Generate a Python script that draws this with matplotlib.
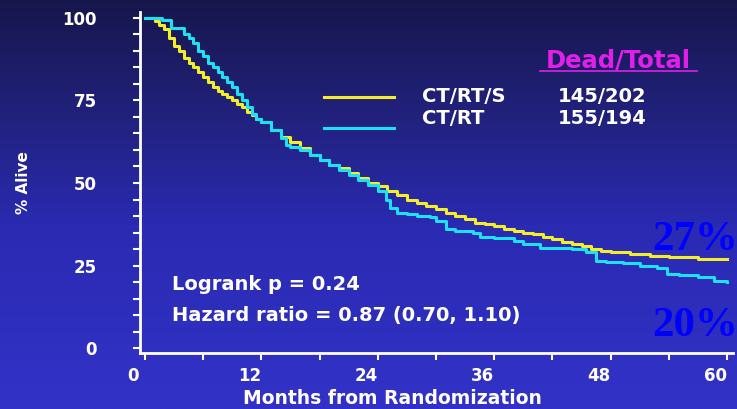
import matplotlib
matplotlib.use('Agg')
import matplotlib.pyplot as plt
import matplotlib.transforms as mtransforms
import numpy as np
from matplotlib.colors import LinearSegmentedColormap
from matplotlib.ticker import MultipleLocator

# Kaplan-Meier curves (months, % alive)
months_s = [0, 1.0, 1.5, 2.0, 2.5, 3.0, 3.5, 4.0, 4.5, 5.0, 5.5, 6.0, 6.5, 7.0,
            7.5, 8.0, 8.5, 9.0, 9.5, 10, 10.5, 11, 11.5, 12, 13, 14, 15, 16,
            17, 18, 19, 20, 21, 22, 23, 24, 25, 26, 27, 28, 29, 30, 31, 32,
            33, 34, 35, 36, 37, 38, 39, 40, 41, 42, 43, 44, 45, 46, 47, 48,
            50, 52, 54, 57, 60]
alive_s = [100, 99, 98, 96.5, 94, 91.5, 90, 88, 86.5, 85, 83.5, 82, 80.5, 79,
           78, 77, 76, 75, 74, 73, 71.5, 70.5, 69.5, 68.5, 66, 64, 62.5, 60.5,
           58.5, 57, 55.5, 54.5, 53, 51.5, 50, 49, 47.5, 46.5, 45, 44, 43, 42,
           41, 40, 39, 38, 37.5, 37, 36, 35.5, 35, 34.5, 33.5, 33, 32, 31.5,
           31, 30, 29.5, 29, 28.5, 28, 27.5, 27, 27]

months_rt = [0, 1.8, 2.7, 4.0, 4.5, 5.0, 5.5, 6.0, 6.5, 7.0, 7.5, 8.0, 8.5,
             9.0, 9.5, 10, 10.5, 11, 11.5, 12, 13, 14, 14.5, 15, 16, 17, 18,
             19, 20, 21, 22, 23, 24, 24.8, 25.3, 26, 27, 28, 29.4, 30, 31, 32,
             33.8, 34.5, 36, 38, 39, 40.7, 42, 44, 45.5, 46.5, 47.5, 49.3, 51,
             52.8, 53.8, 55, 57, 58.6, 60]
alive_rt = [100, 99.3, 97, 95, 94, 92.5, 90, 88.5, 86.5, 85, 83.5, 82, 80.5,
            79, 77, 75, 73, 71, 69.5, 68.5, 66, 63.5, 61.5, 61, 60, 58.5, 57,
            55.5, 54, 52.5, 51, 49.5, 47.5, 45, 42.5, 41, 40.5, 40, 39.7,
            38.5, 36, 35.5, 35, 33.5, 33.3, 32.5, 31.5, 30.3, 30.3, 30, 29,
            26.5, 26, 25.7, 25, 24.2, 22.5, 22, 21.5, 20.2, 20]

labels = ['CT/RT/S', 'CT/RT']
dead_total = ['145/202', '155/194']
colors = ['#f2ee2a', '#1ee0f0']

plt.rcParams['font.family'] = ['DejaVu Sans']
plt.rcParams['font.weight'] = 'bold'

fig = plt.figure(figsize=(7.37, 4.09), dpi=100)

# background gradient
bg = fig.add_axes([0, 0, 1, 1], zorder=-1)
grad = np.linspace(0, 1, 256).reshape(-1, 1)
cmap = LinearSegmentedColormap.from_list(
    'bg', [(0, '#17164c'), (0.3, '#222280'), (0.55, '#2a2ab2'), (1, '#3232c8')])
bg.imshow(grad, aspect='auto', cmap=cmap, extent=[0, 1, 0, 1], origin='upper')
bg.axis('off')

ax = fig.add_axes([140 / 737, (409 - 353) / 409, (733 - 140) / 737, (353 - 12) / 409])
ax.patch.set_alpha(0)

ax.plot(months_s, alive_s, drawstyle='steps-post', color=colors[0], lw=2.2)
ax.plot(months_rt, alive_rt, drawstyle='steps-post', color=colors[1], lw=2.2)

ax.set_xlim(-0.5, 60.6)
ax.set_ylim(-1.5, 101.8)
for s in ['top', 'right']:
    ax.spines[s].set_visible(False)
for s in ['left', 'bottom']:
    ax.spines[s].set_color('white')
    ax.spines[s].set_linewidth(2)

ax.xaxis.set_major_locator(MultipleLocator(12))
ax.xaxis.set_minor_locator(MultipleLocator(6))
ax.yaxis.set_major_locator(MultipleLocator(25))
ax.yaxis.set_minor_locator(MultipleLocator(5))
ax.tick_params(which='both', colors='white', width=1.5, length=5)
ax.tick_params(which='major', labelsize=12)
ax.tick_params(axis='y', pad=26)
ax.tick_params(axis='x', pad=5)
shift = mtransforms.ScaledTranslation(-12 / 100, 0, fig.dpi_scale_trans)
for lab in ax.get_xticklabels():
    lab.set_transform(lab.get_transform() + shift)
for lab in ax.get_xticklabels() + ax.get_yticklabels():
    lab.set_fontweight('bold')
    lab.set_color('white')

fig.text(24 / 737, 1 - 183 / 409, '% Alive', rotation=90, color='white',
         fontsize=11, fontweight='bold', ha='center', va='center')
fig.text(392 / 737, 1 - 399 / 409, 'Months from Randomization', color='white',
         fontsize=13.5, fontweight='bold', ha='center', va='center')

# legend block
fig.text(618 / 737, 1 - 60 / 409, 'Dead/Total', color='#e020e8', fontsize=17.5,
         fontweight='bold', ha='center', va='center')
fig.add_artist(plt.Line2D([540 / 737, 697 / 737], [1 - 71 / 409, 1 - 71 / 409],
                          color='#e020e8', lw=1.2))
for i, (lab, dt, c) in enumerate(zip(labels, dead_total, colors)):
    ly = [97, 128][i]
    ty = [97, 119][i]
    fig.add_artist(plt.Line2D([324 / 737, 394 / 737], [1 - ly / 409] * 2, color=c, lw=2.2))
    fig.text(422 / 737, 1 - ty / 409, lab, color='white', fontsize=14,
             fontweight='bold', va='center')
    fig.text(558 / 737, 1 - ty / 409, dt, color='white', fontsize=14,
             fontweight='bold', va='center')

fig.text(172 / 737, 1 - 285 / 409, 'Logrank p = 0.24', color='white',
         fontsize=14, fontweight='bold', va='center')
fig.text(172 / 737, 1 - 315 / 409, 'Hazard ratio = 0.87 (0.70, 1.10)', color='white',
         fontsize=14, fontweight='bold', va='center')

fig.text(738 / 737, 1 - 240 / 409, '27%', color='#0000ff', fontsize=31,
         fontweight='bold', family='Liberation Serif', ha='right', va='center')
fig.text(738 / 737, 1 - 326 / 409, '20%', color='#0000ff', fontsize=31,
         fontweight='bold', family='Liberation Serif', ha='right', va='center')

fig.savefig('out.png', dpi=100)
